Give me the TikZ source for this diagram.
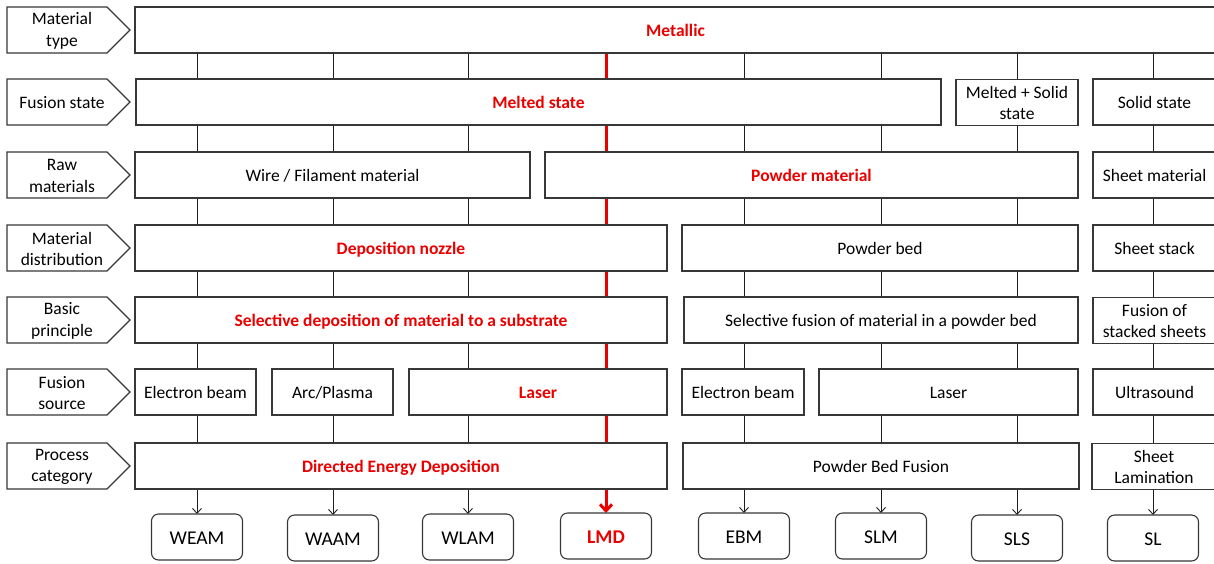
\documentclass[tikz,border=0pt]{standalone}
\usepackage{fontspec}
\setmainfont{Carlito}
\usetikzlibrary{arrows.meta,backgrounds}
\definecolor{mred}{RGB}{235,0,0}
\definecolor{bord}{RGB}{55,55,55}
\definecolor{lnc}{RGB}{30,30,30}
\newcommand\Bx[7][]{\node[box,#1,minimum width={#4-#3},minimum height={#6-#5}] (#2) at ({(#3+#4)/2},{(#5+#6)/2}) {#7};}
\newcommand\Lb[4]{\draw[labshape] (7,#2) -- (107,#2) -- (130,{(#2+#3)/2}) -- (107,#3) -- (7,#3) -- cycle;
  \node[labtxt] (#1) at (62,{(#2+#3)/2+0.8}) {#4};}
\begin{document}
\begin{tikzpicture}[x=1pt,y=-1pt,
  box/.style={draw=bord,fill=white,line width=1.1pt,inner sep=1pt,outer sep=0pt,align=center,
    font=\fontsize{17.5}{21.5}\selectfont,text=black,text height=15.5pt,text depth=2.5pt},
  ml/.style={text height=,text depth=,yshift=-0.8pt},
  hl/.style={text=mred,font=\fontsize{17.5}{21.5}\selectfont\bfseries},
  rbox/.style={rounded corners=7pt,font=\fontsize{19.5}{23}\selectfont,text height=16.5pt,text depth=2.5pt},
  rhl/.style={text=mred,font=\fontsize{19.5}{23}\selectfont\bfseries},
  labshape/.style={draw=bord,fill=white,line width=1.1pt},
  labtxt/.style={align=center,inner sep=0pt,font=\fontsize{17.5}{21.5}\selectfont,text=black},
  conn/.style={draw=lnc,line width=0.9pt,-{Straight Barb[length=5pt,width=9pt]}},
  rconn/.style={draw=mred,line width=3pt,-{Straight Barb[length=6.5pt,width=12pt]}}]
\path[use as bounding box] (0,0) rectangle (1214,563);
\clip (0,0) rectangle (1214,563);
% row labels
\Lb{l1}{7}{53}{Material\\type}
\Lb{l2}{79}{125}{Fusion state}
\Lb{l3}{152}{198}{Raw\\materials}
\Lb{l4}{225}{271}{Material\\distribution}
\Lb{l5}{297}{343}{Basic\\principle}
\Lb{l6}{369}{415}{Fusion\\source}
\Lb{l7}{443}{489}{Process\\category}
% row 1
\Bx[hl]{metal}{135}{1216}{7}{53}{Metallic}
% row 2
\Bx[hl]{melted}{136}{941}{79}{125}{Melted state}
\Bx[ml]{msolid}{956}{1078}{79}{125}{Melted + Solid\\state}
\Bx{solid}{1093}{1216}{79}{125}{Solid state}
% row 3
\Bx{wire}{135}{530}{152}{198}{Wire / Filament material}
\Bx[hl]{powder}{545}{1078}{152}{198}{Powder material}
\Bx{sheet}{1093}{1216}{152}{198}{Sheet material}
% row 4
\Bx[hl]{nozzle}{135}{667}{225}{271}{Deposition nozzle}
\Bx{bed}{682}{1078}{225}{271}{Powder bed}
\Bx{stack}{1093}{1216}{225}{271}{Sheet stack}
% row 5
\Bx[hl]{seldep}{135}{667}{297}{343}{Selective deposition of material to a substrate}
\Bx{selfus}{684}{1078}{297}{343}{Selective fusion of material in a powder bed}
\Bx[ml]{fstack}{1093}{1216}{297}{343}{Fusion of\\stacked sheets}
% row 6
\Bx{eb1}{135}{256}{369}{415}{Electron beam}
\Bx{arc}{272}{393}{369}{415}{Arc/Plasma}
\Bx[hl]{las1}{409}{667}{369}{415}{Laser}
\Bx{eb2}{682}{804}{369}{415}{Electron beam}
\Bx{las2}{819}{1078}{369}{415}{Laser}
\Bx{ultra}{1093}{1216}{369}{415}{Ultrasound}
% row 7
\Bx[hl]{ded}{135}{667}{443}{489}{Directed Energy Deposition}
\Bx{pbf}{683}{1079}{443}{489}{Powder Bed Fusion}
\Bx[ml]{slam}{1092}{1216}{443}{489}{Sheet\\Lamination}
% bottom
\Bx[rbox]{weam}{151.5}{242.5}{514}{560}{WEAM}
\Bx[rbox]{waam}{287.5}{378.5}{515}{561}{WAAM}
\Bx[rbox]{wlam}{422.5}{513.5}{514}{560}{WLAM}
\Bx[rbox,rhl]{lmd}{560.5}{651.5}{513}{559}{LMD}
\Bx[rbox]{ebm}{698.5}{789.5}{513}{559}{EBM}
\Bx[rbox]{slm}{835.5}{926.5}{513}{559}{SLM}
\Bx[rbox]{sls}{971.5}{1062.5}{515}{561}{SLS}
\Bx[rbox]{sl}{1107.5}{1198.5}{515}{561}{SL}
% connectors
\begin{scope}[on background layer]
\foreach \n in {weam,waam,wlam,ebm,slm,sls,sl}
  \draw[conn] (metal.south -| \n.north) -- (\n.north);
\draw[rconn] (metal.south -| lmd.north) -- (lmd.north);
\end{scope}
\end{tikzpicture}
\end{document}
